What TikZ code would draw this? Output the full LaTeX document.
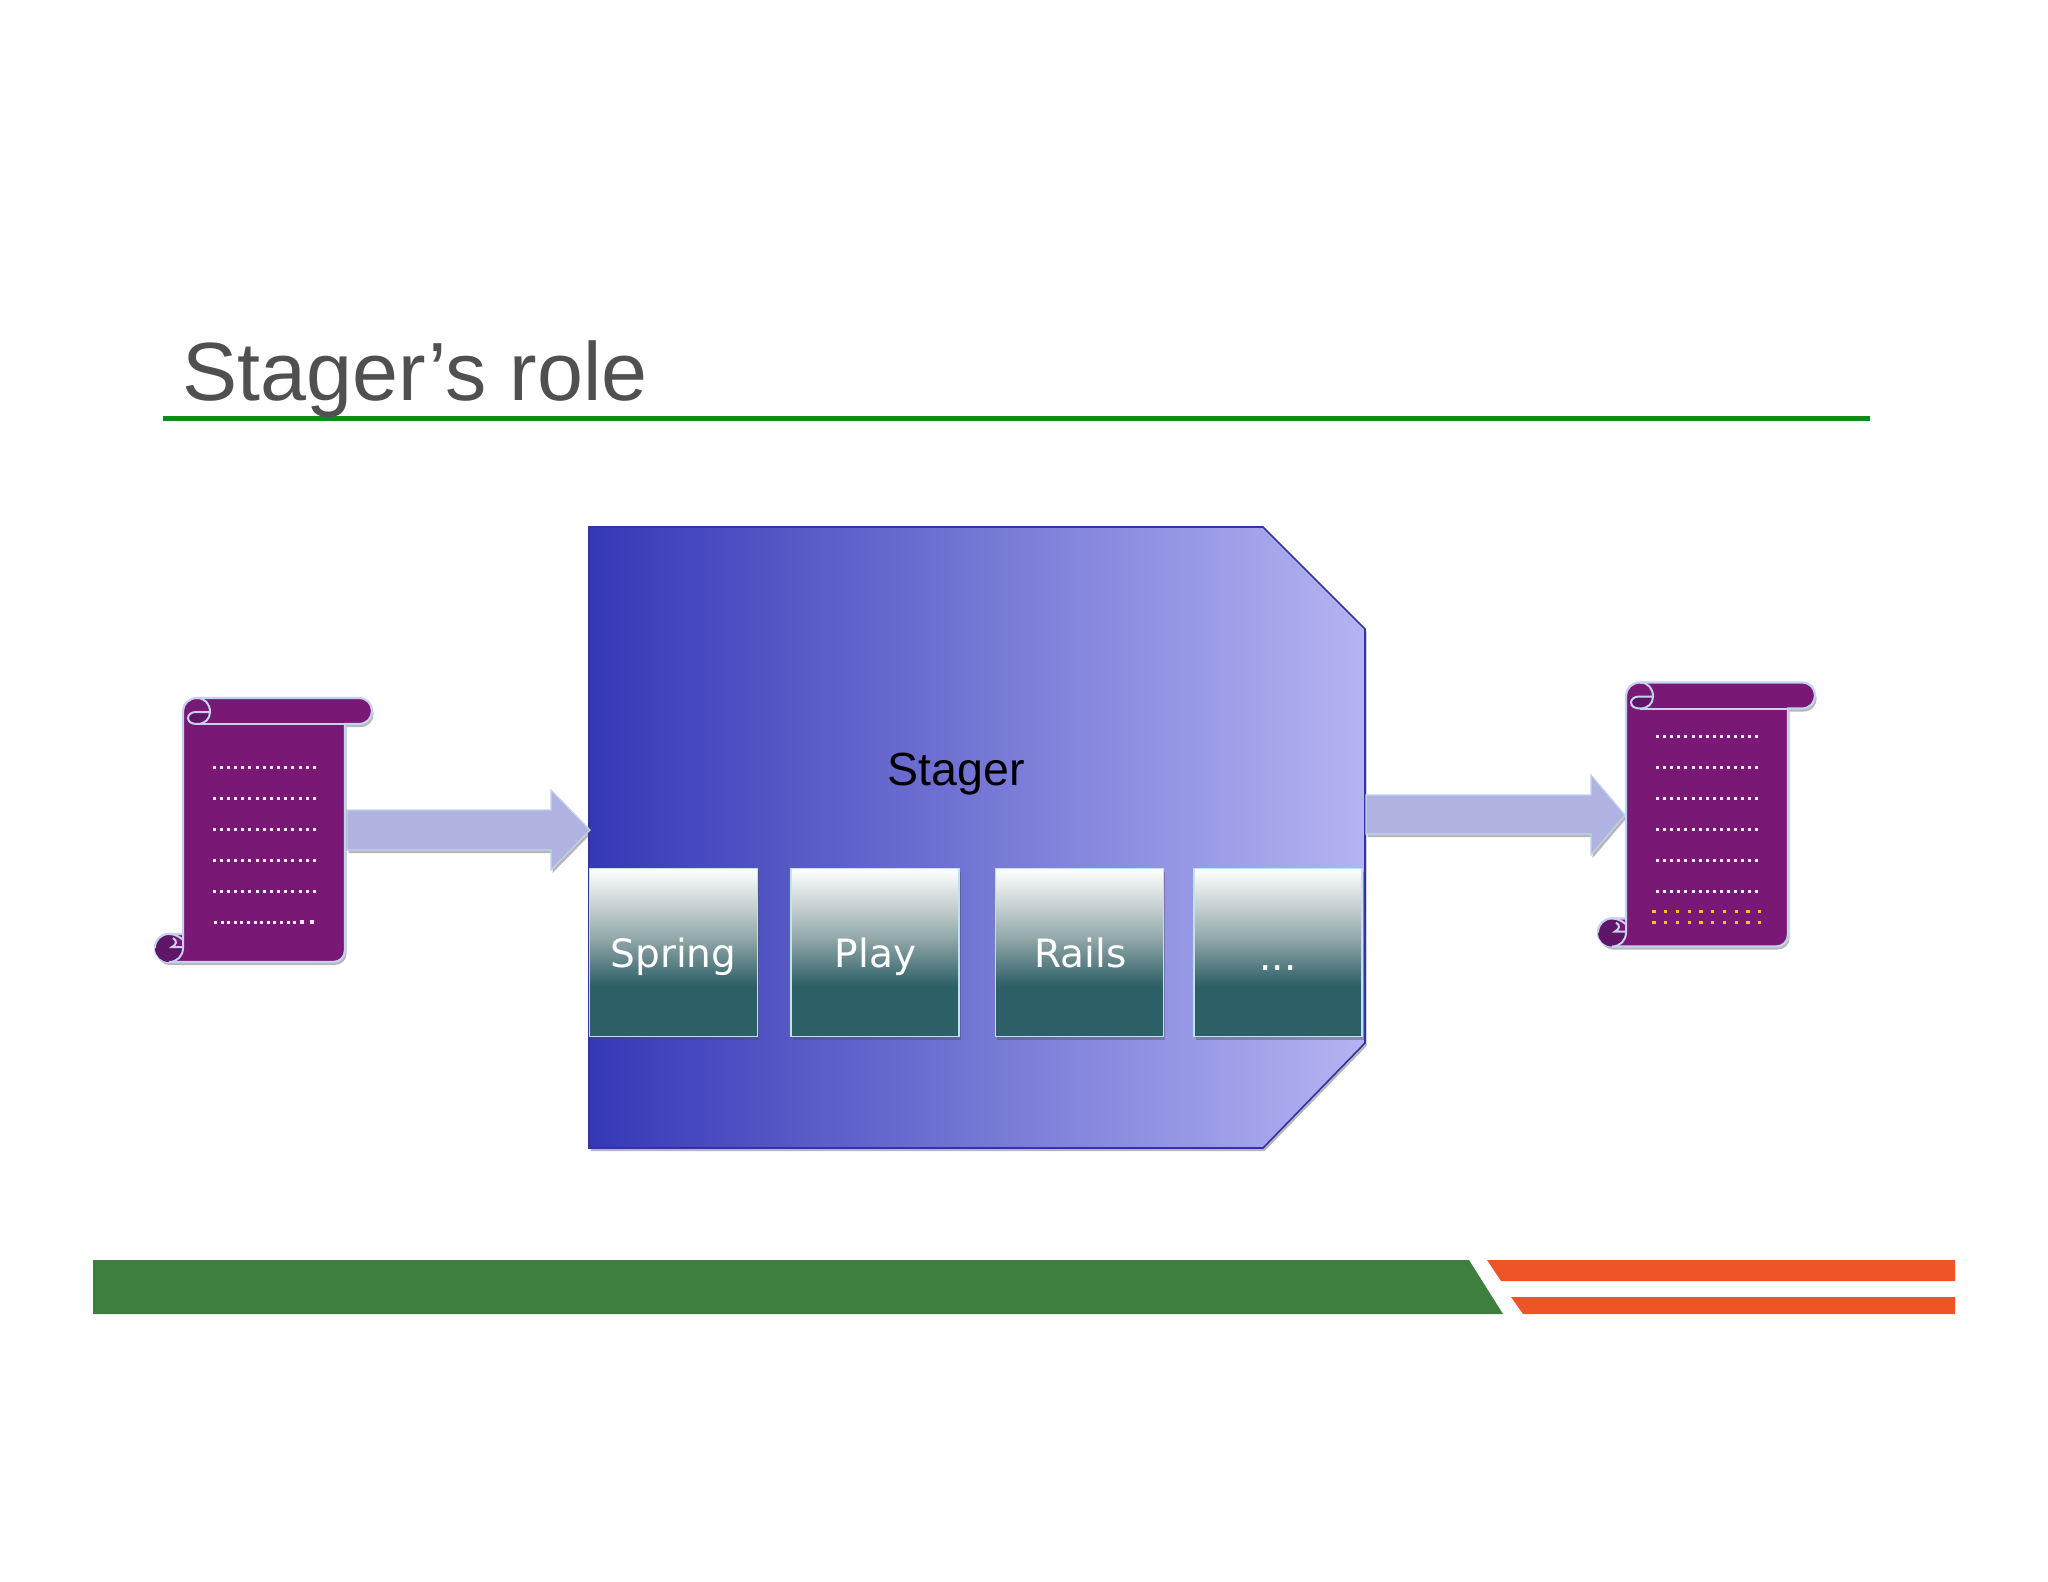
\documentclass[tikz,border=0pt]{standalone}
\usepackage{fontspec}
\setmainfont{Liberation Sans}
\newfontfamily\boxfont{DejaVu Sans}
\usetikzlibrary{shadows}
\definecolor{tealc}{HTML}{2C5F66}
\definecolor{tealtop}{HTML}{FBFBFB}
\definecolor{tealmid}{HTML}{97ABAC}
\definecolor{scrollc}{HTML}{7A1975}
\definecolor{scrolld}{HTML}{5F1568}
\definecolor{edgec}{HTML}{C4D2EE}
\definecolor{arrowc}{HTML}{B0B3E2}
\definecolor{stagerl}{HTML}{3538B6}
\definecolor{stagerr}{HTML}{B4B4F3}
\definecolor{boxedge}{HTML}{BFE2F2}
\definecolor{footg}{HTML}{3E7E3E}
\definecolor{footo}{HTML}{EE5427}
\definecolor{ruleg}{HTML}{0F8A18}
\definecolor{titlec}{HTML}{505050}
\definecolor{dotc}{HTML}{F8ECF8}
\definecolor{doty}{HTML}{FFC21A}
\definecolor{stageredge}{HTML}{3434A0}
\pgfdeclareverticalshading{boxshade}{100bp}{color(0bp)=(tealc); color(25bp)=(tealc); color(40bp)=(tealc); color(55bp)=(tealmid); color(74bp)=(tealtop); color(100bp)=(tealtop)}
\tikzset{
  softshadow/.style={drop shadow={shadow xshift=0.8pt,shadow yshift=-1.5pt,opacity=.4,fill=black!70}},
  fwbox/.style={rectangle,draw=boxedge,line width=0.9pt,minimum width=84pt,minimum height=84pt,inner sep=0pt,shading=boxshade,softshadow},
  boxlabel/.style={font=\boxfont\fontsize{19.5}{22}\selectfont,text=white,anchor=base,inner sep=0pt},
  blockarrow/.style={fill=arrowc,draw=edgec,line width=0.6pt,softshadow},
  scrollbody/.style={fill=scrollc,draw=edgec,line width=1.1pt,softshadow},
  scrollline/.style={draw=edgec,line width=1pt},
}
\newcommand{\scrollshape}{%
  \path[scrollbody] (197,698) -- (359,698) .. controls (367,698) and (372,704) .. (372,711)
    .. controls (372,718) and (367,724) .. (359,724) -- (345,724) -- (345,950)
    .. controls (345,957) and (340,962) .. (333,962) -- (169,962)
    .. controls (161,962) and (155,956) .. (155,948) .. controls (155,940) and (161,934) .. (169,934)
    -- (183,934) -- (183,711) .. controls (183,704) and (189,698) .. (197,698) -- cycle;
  % top curl
  \path[fill=scrolld] (210,712) -- (196,712) .. controls (191,712) and (188,715) .. (188,718)
    .. controls (188,722) and (192,724) .. (197,724) .. controls (205,724) and (210,719) .. (210,712) -- cycle;
  \path[scrollline] (197,698) .. controls (205,698) and (210,704) .. (210,712) .. controls (210,719) and (205,724) .. (197,724)
    .. controls (192,724) and (188,722) .. (188,718) .. controls (188,715) and (191,712) .. (196,712) -- (210,712);
  \path[scrollline] (197,724) -- (345,724);
  % bottom curl
  \path[fill=scrolld] (169,934) .. controls (177,934) and (183,940) .. (183,948)
    .. controls (183,956) and (177,962) .. (169,962) .. controls (161,962) and (155,956) .. (155,948)
    .. controls (155,940) and (161,934) .. (169,934) -- cycle;
  \path[fill=scrollc] (177,936) -- (183,936) -- (183,947) -- (169,947) .. controls (175,946) and (178,942) .. (173,938) -- cycle;
  \path[scrollline] (169,962) .. controls (177,962) and (183,956) .. (183,948) -- (183,934);
  \path[scrollline] (155,948) .. controls (155,940) and (161,934) .. (169,934) .. controls (175,934) and (180,937) .. (183,940);
  \path[scrollline] (183,947) -- (172,947) .. controls (176,945) and (178,941) .. (173,938);
}
\begin{document}
\begin{tikzpicture}[x=0.5pt,y=-0.5pt]
\useasboundingbox (0,0) rectangle (2048,1582);
\fill[white] (0,0) rectangle (2048,1582);
% title
\fill[fill=ruleg] (163,416.5) rectangle (1870,421.5);
\node[anchor=base west,inner sep=0pt,text=titlec,font=\fontsize{41.3}{44}\selectfont] (title) at (182,400.5) {Stager’s role};
% footer
\fill[fill=footg] (93,1260) -- (1469,1260) -- (1503,1314) -- (93,1314) -- cycle;
\fill[fill=footo] (1487,1260) -- (1955,1260) -- (1955,1281) -- (1501,1281) -- cycle;
\fill[fill=footo] (1511,1297) -- (1955,1297) -- (1955,1314) -- (1523,1314) -- cycle;
% stager body
\path[draw=stageredge,line width=0.8pt,left color=stagerl,right color=stagerr,softshadow]
  (589,527) -- (1263,527) -- (1365,629) -- (1365,1043) -- (1263,1148) -- (589,1148) -- cycle;
\node[font=\fontsize{23.25}{26}\selectfont,text=black,anchor=base,inner sep=0pt] (stager) at (956,785) {Stager};
% framework boxes
\node[fwbox] (spring) at (673.5,952.5) {};
\node[fwbox] (play) at (875,952.5) {};
\node[fwbox] (rails) at (1079.5,952.5) {};
\node[fwbox] (more) at (1278,952.5) {};
\node[boxlabel] (springl) at (673.5,967) {Spring};
\node[boxlabel] (playl) at (875.5,967) {Play};
\node[boxlabel] (railsl) at (1080.5,967) {Rails};
\node[boxlabel] (morel) at (1278,970) {...};
% block arrows
\path[blockarrow] (347,810) -- (551,810) -- (551,790) -- (590,830) -- (551,870) -- (551,850) -- (347,850) -- cycle;
\path[blockarrow] (1366,795) -- (1591,795) -- (1591,775) -- (1625,815) -- (1591,855) -- (1591,834) -- (1366,834) -- cycle;
% left scroll
\scrollshape
\foreach \yy in {767.7,798.7,829.7,860.7,891.7}{
  \foreach \i in {0,...,14}{\fill[dotc] ({214+\i*7.17-1.5},{\yy-1.5}) rectangle ++(3,3);}
}
\foreach \i in {0,...,12}{\fill[dotc] ({215.5+\i*6.6-1.5},{922.3-1.5}) rectangle ++(3,3);}
\fill[dotc] (300,920) rectangle ++(4,4.2);
\fill[dotc] (309.5,920) rectangle ++(4,4.2);
% right scroll
\begin{scope}[shift={(1443,-15.5)}]
\scrollshape
\end{scope}
\foreach \yy in {736.7,767.7,798.7,829.7,860.7,891.7}{
  \foreach \i in {0,...,14}{\fill[dotc] ({1657.5+\i*7.1-1.5},{\yy-1.5}) rectangle ++(3,3);}
}
\foreach \yy in {911.7,922.3}{
  \foreach \i in {0,...,9}{\fill[doty] ({1654+\i*11.75-1.6},{\yy-1.7}) rectangle ++(3.2,3.4);}
}
\end{tikzpicture}
\end{document}
